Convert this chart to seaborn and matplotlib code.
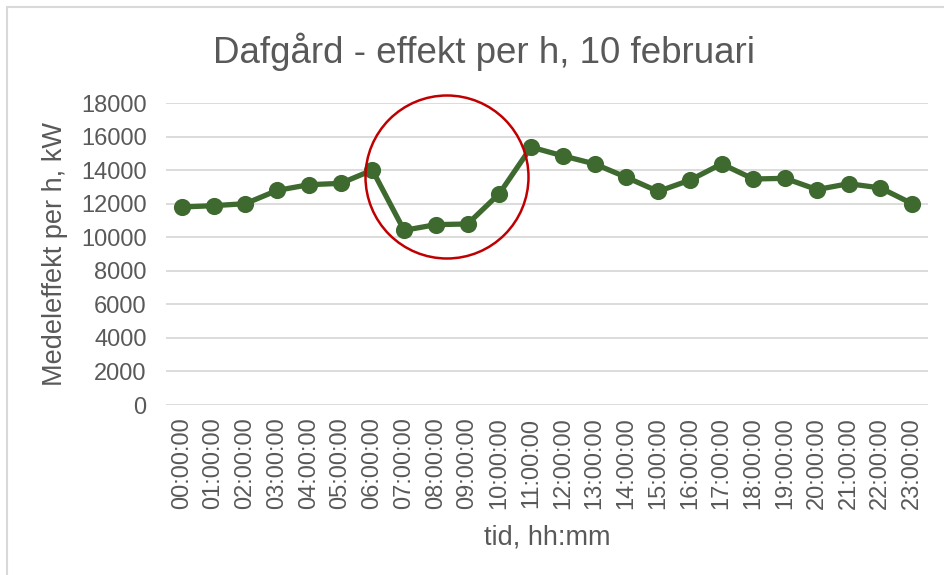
import matplotlib
matplotlib.use("Agg")
import matplotlib.pyplot as plt
import seaborn as sns
from matplotlib.patches import Ellipse, Rectangle

# data
tider = ["%02d:00:00" % h for h in range(24)]
effekt = [11800, 11880, 12000, 12790, 13130, 13210, 14000, 10410,
          10750, 10790, 12600, 15370, 14850, 14370, 13570, 12730,
          13400, 14370, 13470, 13510, 12840, 13190, 12940, 12000]
yticks = list(range(0, 18001, 2000))

green = "#3E6A2F"
grey = "#595959"

sns.set_style("white")
plt.rcParams['font.family'] = ['Liberation Sans', 'DejaVu Sans']

fig = plt.figure(figsize=(9.45, 5.75), dpi=100)
ax = fig.add_axes([166 / 945, 1 - 405 / 575, (928 - 166) / 945, (405 - 103) / 575])

sns.pointplot(x=tider, y=effekt, color=green, markers="o",
              markersize=9.5, linewidth=3.8, ax=ax)

ax.set_ylim(0, 18000)
ax.set_xlim(-0.5, 23.5)
ax.set_yticks(yticks)
ax.grid(axis="y", color="#D9D9D9", linewidth=1.3)
ax.set_axisbelow(True)
for s in ax.spines.values():
    s.set_visible(False)
ax.tick_params(axis="both", length=0, labelsize=17, labelcolor=grey)
ax.tick_params(axis="y", pad=14)
ax.tick_params(axis="x", pad=9, rotation=90)

ax.set_xlabel("tid, hh:mm", fontsize=19.5, color=grey, labelpad=11)
ax.set_ylabel("Medeleffekt per h, kW", fontsize=19.5, color=grey, labelpad=9)

fig.text(484 / 945, 1 - 52 / 575, "Dafgård - effekt per h, 10 februari",
         fontsize=26.5, color=grey, ha="center", va="center")

# red circle highlighting the dip
fig.add_artist(Ellipse((447 / 945, 1 - 177 / 575), 163 / 945, 163 / 575,
                       transform=fig.transFigure, fill=False,
                       edgecolor="#C00000", linewidth=1.8, zorder=5))

# chart border
fig.add_artist(Rectangle((7 / 945, -0.01), 1.0, 1 - 7 / 575 + 0.01,
                         transform=fig.transFigure, fill=False,
                         edgecolor="#D9D9D9", linewidth=1.5))

fig.savefig("out.png", dpi=100)
